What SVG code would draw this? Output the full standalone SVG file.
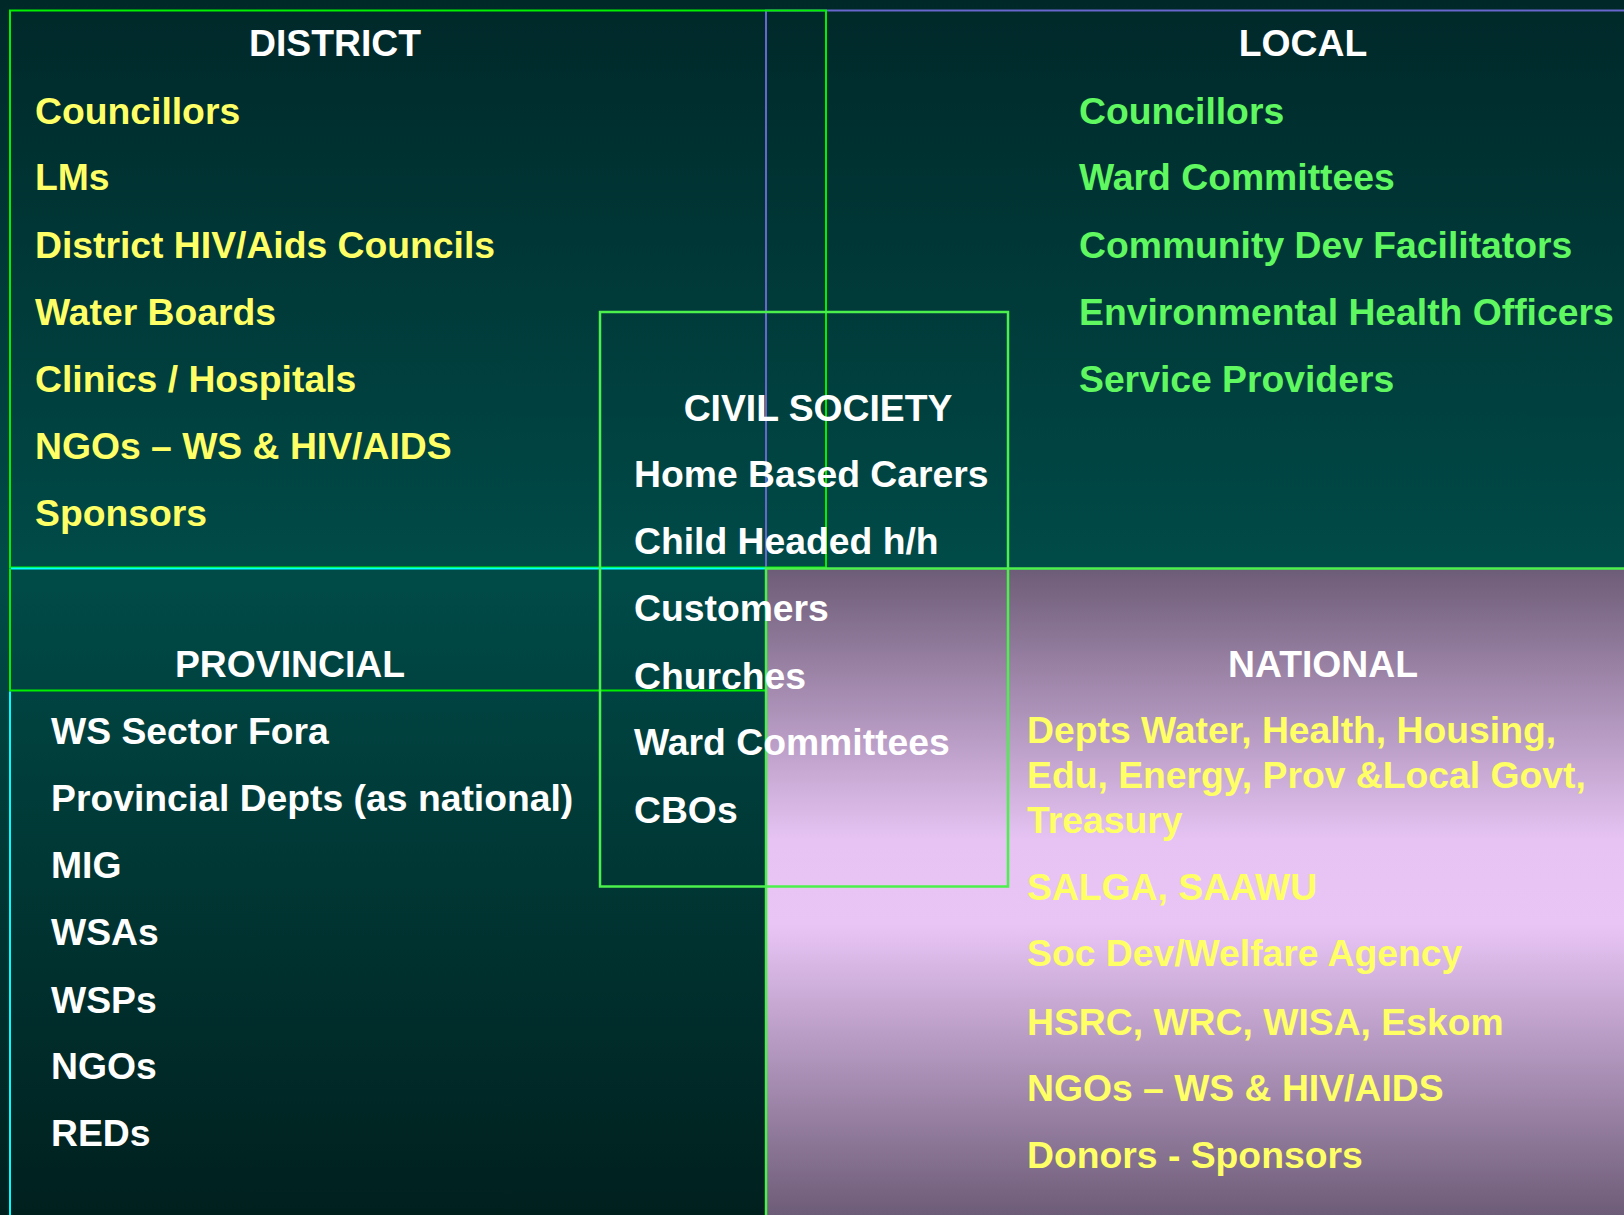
<svg xmlns="http://www.w3.org/2000/svg" width="1624" height="1215" viewBox="0 0 1624 1215">
  <defs>
    <linearGradient id="bg" x1="0" y1="0" x2="0" y2="1">
      <stop offset="0" stop-color="#002829"/>
      <stop offset="0.47" stop-color="#004b48"/>
      <stop offset="1" stop-color="#00201e"/>
    </linearGradient>
    <linearGradient id="nat" x1="0" y1="0" x2="0" y2="1">
      <stop offset="0" stop-color="#6d5c77"/>
      <stop offset="0.42" stop-color="#e6c3f3"/>
      <stop offset="0.55" stop-color="#e9c5f6"/>
      <stop offset="1" stop-color="#6d5c77"/>
    </linearGradient>
    <style>
      text { font-family: "Liberation Sans", Arial, sans-serif; font-weight: bold; font-size: 37.3px; }
      .hdr { fill: #ffffff; text-anchor: middle; }
      .wht { fill: #ffffff; }
      .yel { fill: #ffff66; }
      .grn { fill: #60f860; }
      .g { stroke: #00f000; stroke-width: 2; fill: none; }
      .lg { stroke: #4cf04c; stroke-width: 2.5; fill: none; }
      .b { stroke: #6666cc; stroke-width: 2; fill: none; }
      .c { stroke: #00ffff; stroke-width: 2; fill: none; }
    </style>
  </defs>

  <rect x="0" y="0" width="1624" height="1215" fill="url(#bg)"/>
  <rect x="766" y="568.5" width="858" height="646.5" fill="url(#nat)"/>

  <g id="connectors">
    <!-- blue frame (local) -->
    <path class="b" d="M766 1215 V10.5 H1624"/>
    <!-- district frame -->
    <rect class="g" x="10" y="10.5" width="816" height="557"/>
    <!-- provincial header band -->
    <path class="g" d="M10 568.5 V690.5 H766"/>
    <!-- cyan frame (provincial) -->
    <path class="c" d="M11 568.5 H766"/>
    <path class="c" d="M10 691.5 V1215"/>
    <!-- national frame -->
    <path class="lg" d="M766 1215 V568.5 H1624"/>
    <!-- civil society frame -->
    <rect class="lg" x="600" y="312" width="408" height="574.5"/>
  </g>

  <g id="district">
    <text class="hdr" x="335" y="56">DISTRICT</text>
    <text class="yel" x="35" y="124">Councillors</text>
    <text class="yel" x="35" y="190">LMs</text>
    <text class="yel" x="35" y="258">District HIV/Aids Councils</text>
    <text class="yel" x="35" y="325">Water Boards</text>
    <text class="yel" x="35" y="392">Clinics / Hospitals</text>
    <text class="yel" x="35" y="459">NGOs – WS &amp; HIV/AIDS</text>
    <text class="yel" x="35" y="526">Sponsors</text>
  </g>

  <g id="local">
    <text class="hdr" x="1303" y="56">LOCAL</text>
    <text class="grn" x="1079" y="124">Councillors</text>
    <text class="grn" x="1079" y="190">Ward Committees</text>
    <text class="grn" x="1079" y="258">Community Dev Facilitators</text>
    <text class="grn" x="1079" y="325">Environmental Health Officers</text>
    <text class="grn" x="1079" y="392">Service Providers</text>
  </g>

  <g id="civil-society">
    <text class="hdr" x="818" y="420.5">CIVIL SOCIETY</text>
    <text class="wht" x="634" y="487">Home Based Carers</text>
    <text class="wht" x="634" y="554">Child Headed h/h</text>
    <text class="wht" x="634" y="621">Customers</text>
    <text class="wht" x="634" y="688.5">Churches</text>
    <text class="wht" x="634" y="755">Ward Committees</text>
    <text class="wht" x="634" y="822.5">CBOs</text>
  </g>

  <g id="provincial">
    <text class="hdr" x="290" y="676.5">PROVINCIAL</text>
    <text class="wht" x="51" y="744">WS Sector Fora</text>
    <text class="wht" x="51" y="810.5">Provincial Depts (as national)</text>
    <text class="wht" x="51" y="878">MIG</text>
    <text class="wht" x="51" y="944.5">WSAs</text>
    <text class="wht" x="51" y="1012.5">WSPs</text>
    <text class="wht" x="51" y="1078.5">NGOs</text>
    <text class="wht" x="51" y="1146">REDs</text>
  </g>

  <g id="national">
    <text class="hdr" x="1323" y="676.5">NATIONAL</text>
    <text class="yel" x="1027" y="743">Depts Water, Health, Housing,</text>
    <text class="yel" x="1027" y="788">Edu, Energy, Prov &amp;Local Govt,</text>
    <text class="yel" x="1027" y="832.5">Treasury</text>
    <text class="yel" x="1027" y="900">SALGA, SAAWU</text>
    <text class="yel" x="1027" y="966">Soc Dev/Welfare Agency</text>
    <text class="yel" x="1027" y="1034.5">HSRC, WRC, WISA, Eskom</text>
    <text class="yel" x="1027" y="1100.5">NGOs – WS &amp; HIV/AIDS</text>
    <text class="yel" x="1027" y="1168">Donors - Sponsors</text>
  </g>
</svg>
